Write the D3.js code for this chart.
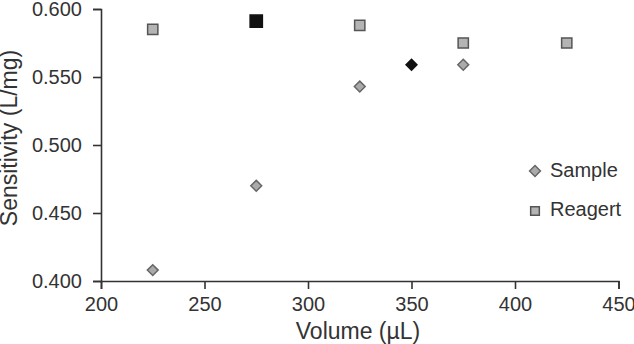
<!DOCTYPE html>
<html>
<head>
<meta charset="utf-8">
<script src="https://cdn.jsdelivr.net/npm/d3@7"></script>
<style>
  body { margin: 0; background: #fff; }
  text { font-family: "Liberation Sans", Arial, sans-serif; fill: #333; }
</style>
</head>
<body>
<div id="chart"></div>
<script>
// volumes (uL) and sensitivity (L/mg)
var sampleX = [225, 275, 325, 375];
var sampleY = [0.408, 0.470, 0.543, 0.559];
var reagentX = [225, 275, 325, 375, 425];
var reagentY = [0.585, 0.591, 0.588, 0.575, 0.575];
// optimum points shown in black
var bestSampleX = [350];
var bestSampleY = [0.559];
var bestReagentX = [275];
var bestReagentY = [0.591];
var xTicks = [200, 250, 300, 350, 400, 450];
var yTicks = [0.400, 0.450, 0.500, 0.550, 0.600];

var width = 634, height = 344;
var svg = d3.select('#chart').append('svg')
  .attr('width', width)
  .attr('height', height);

var x = d3.scaleLinear().domain([200, 450]).range([101, 618.5]);
var y = d3.scaleLinear().domain([0.4, 0.6]).range([281, 9]);

var xAxis = svg.append('g')
  .attr('transform', 'translate(0,' + y(0.4) + ')')
  .call(d3.axisBottom(x).tickValues(xTicks).tickSizeOuter(0).tickSize(8).tickPadding(8));
var yAxis = svg.append('g')
  .attr('transform', 'translate(' + x(200) + ',0)')
  .call(d3.axisLeft(y).tickValues(yTicks).tickFormat(d3.format('.3f')).tickSizeOuter(0).tickSize(8).tickPadding(11));

[xAxis, yAxis].forEach(function (a) {
  a.selectAll('path, line').attr('stroke', '#333').attr('stroke-width', 1.6);
  a.selectAll('text').style('font-size', '20px').attr('fill', '#333');
});

svg.append('text')
  .attr('x', 358)
  .attr('y', 339)
  .attr('text-anchor', 'middle')
  .style('font-size', '23px')
  .text('Volume (µL)');

svg.append('text')
  .attr('transform', 'translate(17,' + 138 + ') rotate(-90)')
  .attr('text-anchor', 'middle')
  .style('font-size', '23px')
  .text('Sensitivity (L/mg)');

var diamond = d3.symbol().type(d3.symbolDiamond2).size(75);
var square = d3.symbol().type(d3.symbolSquare).size(105);

function plot(xs, ys, sym, fill, stroke) {
  svg.append('g').selectAll('path')
    .data(xs)
    .enter().append('path')
    .attr('d', sym)
    .attr('transform', function (d, i) { return 'translate(' + x(d) + ',' + y(ys[i]) + ')'; })
    .attr('fill', fill)
    .attr('stroke', stroke)
    .attr('stroke-width', 1.5);
}

plot(sampleX, sampleY, diamond, '#aaa', '#666');
plot(reagentX, reagentY, square, '#b4b4b4', '#555');
plot(bestSampleX, bestSampleY, d3.symbol().type(d3.symbolDiamond2).size(75), '#111', '#111');
plot(bestReagentX, bestReagentY, d3.symbol().type(d3.symbolSquare).size(150), '#111', '#111');

// legend
var legend = svg.append('g');
legend.append('path')
  .attr('d', diamond)
  .attr('transform', 'translate(535,171)')
  .attr('fill', '#aaa').attr('stroke', '#666').attr('stroke-width', 1.5);
legend.append('text').attr('x', 550).attr('y', 177).style('font-size', '20px').text('Sample');
legend.append('path')
  .attr('d', d3.symbol().type(d3.symbolSquare).size(75))
  .attr('transform', 'translate(535,211)')
  .attr('fill', '#b4b4b4').attr('stroke', '#555').attr('stroke-width', 1.5);
legend.append('text').attr('x', 550).attr('y', 216).style('font-size', '20px').text('Reagert');
</script>
</body>
</html>
